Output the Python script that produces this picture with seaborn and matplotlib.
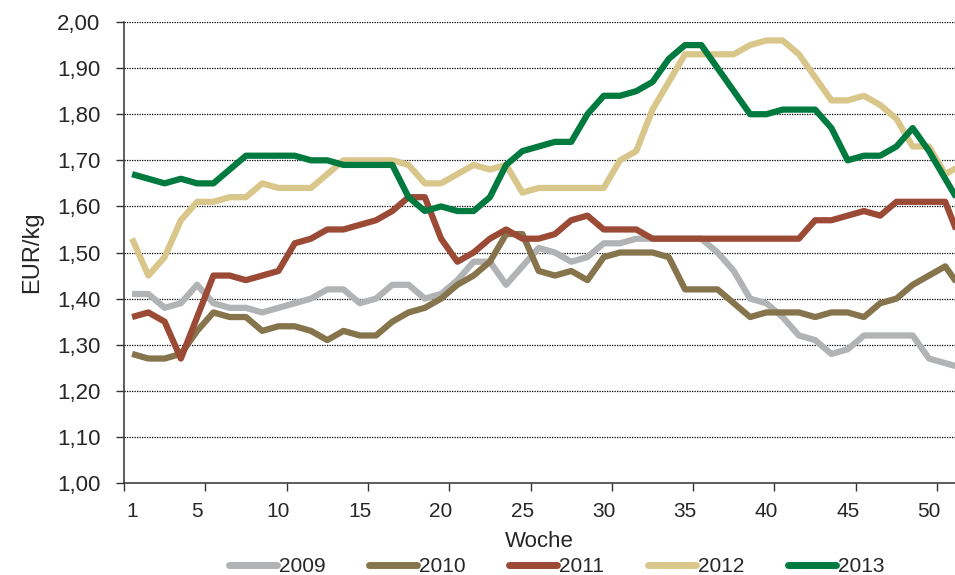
import numpy as np
import pandas as pd
import matplotlib
matplotlib.use("Agg")
import matplotlib.pyplot as plt
from matplotlib.lines import Line2D
import seaborn as sns

# weekly prices (EUR/kg), weeks 1..52
weeks = list(range(1, 53))
years = ['2009', '2010', '2011', '2012', '2013']
p2009 = [1.41, 1.41, 1.38, 1.39, 1.43, 1.39, 1.38, 1.38, 1.37, 1.38, 1.39, 1.40, 1.42,
         1.42, 1.39, 1.40, 1.43, 1.43, 1.40, 1.41, 1.44, 1.48, 1.48, 1.43, 1.47, 1.51,
         1.50, 1.48, 1.49, 1.52, 1.52, 1.53, 1.53, 1.53, 1.53, 1.53, 1.50, 1.46, 1.40,
         1.39, 1.36, 1.32, 1.31, 1.28, 1.29, 1.32, 1.32, 1.32, 1.32, 1.27, 1.26, 1.25]
p2010 = [1.28, 1.27, 1.27, 1.28, 1.33, 1.37, 1.36, 1.36, 1.33, 1.34, 1.34, 1.33, 1.31,
         1.33, 1.32, 1.32, 1.35, 1.37, 1.38, 1.40, 1.43, 1.45, 1.48, 1.54, 1.54, 1.46,
         1.45, 1.46, 1.44, 1.49, 1.50, 1.50, 1.50, 1.49, 1.42, 1.42, 1.42, 1.39, 1.36,
         1.37, 1.37, 1.37, 1.36, 1.37, 1.37, 1.36, 1.39, 1.40, 1.43, 1.45, 1.47, 1.42]
p2011 = [1.36, 1.37, 1.35, 1.27, 1.36, 1.45, 1.45, 1.44, 1.45, 1.46, 1.52, 1.53, 1.55,
         1.55, 1.56, 1.57, 1.59, 1.62, 1.62, 1.53, 1.48, 1.50, 1.53, 1.55, 1.53, 1.53,
         1.54, 1.57, 1.58, 1.55, 1.55, 1.55, 1.53, 1.53, 1.53, 1.53, 1.53, 1.53, 1.53,
         1.53, 1.53, 1.53, 1.57, 1.57, 1.58, 1.59, 1.58, 1.61, 1.61, 1.61, 1.61, 1.52]
p2012 = [1.53, 1.45, 1.49, 1.57, 1.61, 1.61, 1.62, 1.62, 1.65, 1.64, 1.64, 1.64, 1.67,
         1.70, 1.70, 1.70, 1.70, 1.69, 1.65, 1.65, 1.67, 1.69, 1.68, 1.69, 1.63, 1.64,
         1.64, 1.64, 1.64, 1.64, 1.70, 1.72, 1.81, 1.87, 1.93, 1.93, 1.93, 1.93, 1.95,
         1.96, 1.96, 1.93, 1.88, 1.83, 1.83, 1.84, 1.82, 1.79, 1.73, 1.73, 1.67, 1.69]
p2013 = [1.67, 1.66, 1.65, 1.66, 1.65, 1.65, 1.68, 1.71, 1.71, 1.71, 1.71, 1.70, 1.70,
         1.69, 1.69, 1.69, 1.69, 1.62, 1.59, 1.60, 1.59, 1.59, 1.62, 1.69, 1.72, 1.73,
         1.74, 1.74, 1.80, 1.84, 1.84, 1.85, 1.87, 1.92, 1.95, 1.95, 1.90, 1.85, 1.80,
         1.80, 1.81, 1.81, 1.81, 1.77, 1.70, 1.71, 1.71, 1.73, 1.77, 1.72, 1.66, 1.60]
colors = ['#B2B3B5', '#86754C', '#9B4A36', '#D9C68B', '#007A3E']
x_labels = [1, 5, 10, 15, 20, 25, 30, 35, 40, 45, 50]
y_ticks = [1.0, 1.1, 1.2, 1.3, 1.4, 1.5, 1.6, 1.7, 1.8, 1.9, 2.0]

df = pd.DataFrame({
    'Woche': weeks * len(years),
    'Preis': p2009 + p2010 + p2011 + p2012 + p2013,
    'Jahr': [y for y in years for _ in weeks],
})

sns.set_style("white")
plt.rcParams['font.family'] = ['Liberation Sans', 'DejaVu Sans']

fig = plt.figure(figsize=(9.55, 5.75), dpi=100)
ax = fig.add_axes([0.1298, 0.16, 0.8702, 0.8017])

sns.lineplot(data=df, x='Woche', y='Preis', hue='Jahr', palette=colors,
             linewidth=4.5, legend=False, ax=ax, solid_capstyle='butt')

ax.set_xlim(0.5, 51.6)
ax.set_ylim(1.0, 2.0)

ax.set_yticks(y_ticks)
ax.set_yticklabels([f"{v:.2f}".replace('.', ',') for v in y_ticks], fontsize=16)
ax.tick_params(axis='y', length=6, width=1, color='#333333', pad=11, left=True)

ax.set_xticks(x_labels)
ax.set_xticklabels([str(v) for v in x_labels], fontsize=15)
ax.set_xticks(np.arange(0.5, 52, 5), minor=True)
ax.tick_params(axis='x', which='major', length=0, pad=14)
ax.tick_params(axis='x', which='minor', length=6, width=1, color='#333333', bottom=True)

ax.grid(axis='y', color='black', linestyle=(0, (1, 1)), linewidth=0.9)
ax.grid(axis='x', visible=False)
ax.set_axisbelow(True)

for side in ['top', 'right']:
    ax.spines[side].set_visible(False)
for side in ['left', 'bottom']:
    ax.spines[side].set_color('#333333')
    ax.spines[side].set_linewidth(1.1)

ax.set_xlabel('Woche', fontsize=16, labelpad=7)
ax.set_ylabel('EUR/kg', fontsize=17, labelpad=10)

handles = [Line2D([0], [0], color=c, linewidth=5, solid_capstyle='round') for c in colors]
fig.legend(handles, years, loc='center', bbox_to_anchor=(0.583, 0.014), ncol=5,
           frameon=False, fontsize=15, handlelength=2.3, handletextpad=0.1,
           columnspacing=2.1, borderaxespad=0)

fig.savefig('out.png', dpi=100)
